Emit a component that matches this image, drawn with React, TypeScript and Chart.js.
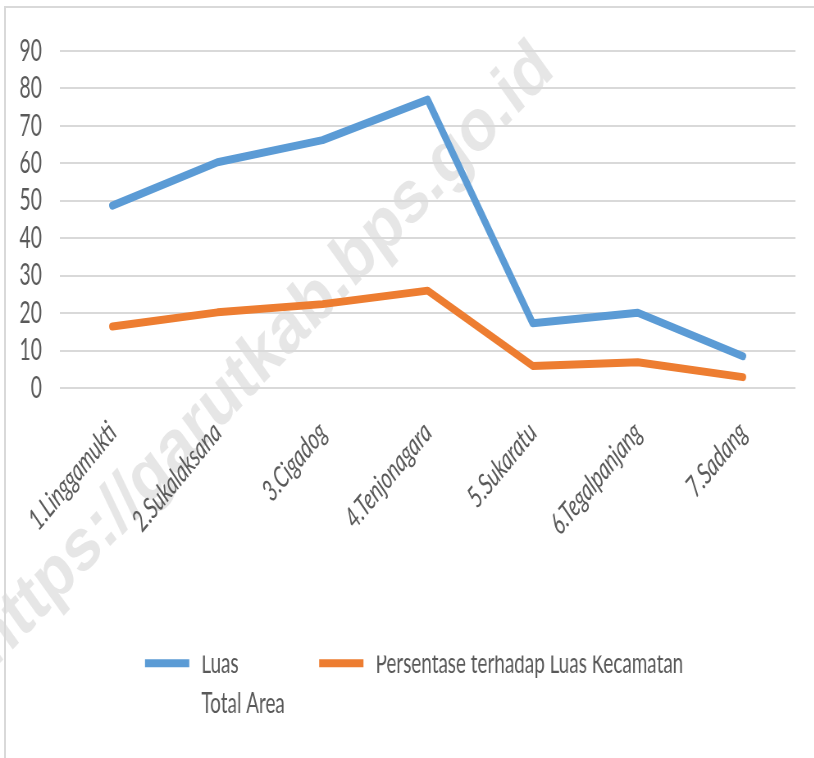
import React, { useEffect, useRef } from "react";
import { Chart, registerables } from "chart.js";

Chart.register(...registerables);

const categories = [
  "1.Linggamukti",
  "2.Sukalaksana",
  "3.Cigadog",
  "4.Tenjonagara",
  "5.Sukaratu",
  "6.Tegalpanjang",
  "7.Sadang",
];
const luas = [48.7, 60.3, 66.2, 77.0, 17.3, 20.1, 8.5];
const persentase = [16.4, 20.2, 22.4, 26.0, 5.9, 6.9, 2.9];
const luasLegend = ["Luas", "Total Area"];
const persentaseLegend = ["Persentase terhadap Luas Kecamatan"];
const yTicks = [0, 10, 20, 30, 40, 50, 60, 70, 80, 90];
const watermarkText = "https://garutkab.bps.go.id";

const BLUE = "#5B9BD5";
const ORANGE = "#ED7D31";
const TEXT = "#595959";
const GRID = "#D9D9D9";
const FONT = "Lato, 'Open Sans', sans-serif";
const SQUEEZE = 0.82; // whole picture is horizontally compressed
const NARROW = 0.78; // extra condensing of text glyphs (Calibri-like narrow face)
const W = Math.round(814 / SQUEEZE);
const H = 758;
const LEGEND_SIZE = 29.5;
const LEGEND_BOX = 54;
const LEGEND_PAD = -7;
const LEGEND_LINE_GAP = 40;

// emulate a condensed font face by compressing text horizontally around its anchor
function condenseText(ctx: any) {
  const proto = Object.getPrototypeOf(ctx);
  const rawFill = proto.fillText;
  const rawMeasure = proto.measureText;
  ctx.fillText = function (text: string, x: number, y: number, maxWidth?: number) {
    if (ctx.__plain) return rawFill.call(ctx, text, x, y);
    ctx.save();
    ctx.translate(x, y);
    ctx.scale(NARROW, 1);
    if (maxWidth !== undefined && maxWidth !== null) rawFill.call(ctx, text, 0, 0, maxWidth / NARROW);
    else rawFill.call(ctx, text, 0, 0);
    ctx.restore();
  };
  ctx.measureText = function (text: string) {
    const m = rawMeasure.call(ctx, text);
    if (ctx.__plain) return m;
    return {
      width: m.width * NARROW,
      actualBoundingBoxAscent: m.actualBoundingBoxAscent,
      actualBoundingBoxDescent: m.actualBoundingBoxDescent,
      actualBoundingBoxLeft: m.actualBoundingBoxLeft * NARROW,
      actualBoundingBoxRight: m.actualBoundingBoxRight * NARROW,
      fontBoundingBoxAscent: m.fontBoundingBoxAscent,
      fontBoundingBoxDescent: m.fontBoundingBoxDescent,
    };
  };
}

const watermarkPlugin = {
  id: "watermark",
  beforeDraw(chart: any) {
    const ctx = chart.ctx;
    ctx.save();
    ctx.__plain = true;
    ctx.translate(322, 356);
    ctx.rotate((-41 * Math.PI) / 180);
    ctx.font = "bold 74px 'Liberation Sans', Arial, sans-serif";
    ctx.fillStyle = "rgba(210,210,210,0.55)";
    ctx.textAlign = "center";
    ctx.textBaseline = "middle";
    ctx.fillText(watermarkText, 0, 0);
    ctx.__plain = false;
    ctx.restore();
  },
};

// second line of the first legend entry (the legend box clips extra lines)
const legendSecondLinePlugin = {
  id: "legendSecondLine",
  afterDraw(chart: any) {
    const lg = chart.legend;
    if (!lg || !lg.legendHitBoxes || !lg.legendHitBoxes[0]) return;
    const hb = lg.legendHitBoxes[0];
    const ctx = chart.ctx;
    ctx.save();
    ctx.font = `normal ${LEGEND_SIZE}px ${FONT}`;
    ctx.fillStyle = TEXT;
    ctx.textAlign = "left";
    ctx.textBaseline = "middle";
    ctx.fillText(luasLegend[1], hb.left + LEGEND_BOX + LEGEND_SIZE / 2, hb.top + LEGEND_SIZE / 2 + LEGEND_LINE_GAP);
    ctx.restore();
  },
};

export default function App() {
  const ref = useRef<HTMLCanvasElement>(null);
  useEffect(() => {
    const canvas = ref.current;
    if (!canvas) return;
    condenseText(canvas.getContext("2d"));
    const chart = new Chart(canvas, {
      type: "line",
      data: {
        labels: categories,
        datasets: [
          {
            label: luasLegend[0],
            data: luas,
            borderColor: BLUE,
            backgroundColor: BLUE,
            borderWidth: 8,
            pointRadius: 0,
            borderCapStyle: "round",
            borderJoinStyle: "round",
            tension: 0,
          },
          {
            label: persentaseLegend[0],
            data: persentase,
            borderColor: ORANGE,
            backgroundColor: ORANGE,
            borderWidth: 8,
            pointRadius: 0,
            borderCapStyle: "round",
            borderJoinStyle: "round",
            tension: 0,
          },
        ],
      },
      options: {
        responsive: false,
        animation: false,
        events: [],
        layout: { padding: { top: 51, right: -17, left: 0, bottom: 70 } },
        plugins: {
          tooltip: { enabled: false },
          legend: {
            position: "bottom",
            labels: {
              boxWidth: LEGEND_BOX,
              boxHeight: 8,
              padding: LEGEND_PAD,
              color: TEXT,
              useBorderRadius: true,
              borderRadius: 4,
              font: { family: FONT, size: LEGEND_SIZE, lineHeight: 2.6 },
              generateLabels: () => [
                {
                  text: luasLegend as any,
                  fillStyle: BLUE,
                  strokeStyle: BLUE,
                  lineWidth: 0,
                  hidden: false,
                  datasetIndex: 0,
                  fontColor: TEXT,
                },
                {
                  text: persentaseLegend[0],
                  fillStyle: ORANGE,
                  strokeStyle: ORANGE,
                  lineWidth: 0,
                  hidden: false,
                  datasetIndex: 1,
                  fontColor: TEXT,
                },
              ],
            },
          },
        },
        scales: {
          x: {
            offset: true,
            grid: { display: false, drawTicks: false },
            border: { display: false },
            ticks: {
              color: TEXT,
              font: { family: FONT, size: 30, style: "italic" },
              minRotation: 45,
              maxRotation: 45,
              padding: 27,
              autoSkip: false,
            },
            afterFit: (scale: any) => {
              scale.height = 260.5 - LEGEND_PAD;
              scale.paddingLeft = 0;
              scale.paddingRight = 0;
            },
          },
          y: {
            min: 0,
            max: 90,
            afterBuildTicks: (scale: any) => {
              scale.ticks = yTicks.map((v) => ({ value: v }));
            },
            grid: { color: GRID, lineWidth: 2, drawTicks: false },
            border: { display: false },
            ticks: {
              color: TEXT,
              font: { family: FONT, size: 30 },
              padding: 22,
              autoSkip: false,
            },
            afterFit: (scale: any) => {
              scale.width = 73;
            },
          },
          // blank right-hand spacer axis (keeps the plot's right margin)
          yRight: {
            position: "right",
            min: 0,
            max: 90,
            grid: { display: false, drawTicks: false },
            border: { display: false },
            ticks: { display: false },
            afterFit: (scale: any) => {
              scale.width = 40;
              scale.paddingTop = 0;
              scale.paddingBottom = 0;
            },
          },
        },
      },
      plugins: [watermarkPlugin, legendSecondLinePlugin],
    } as any);
    return () => chart.destroy();
  }, []);

  return (
    <div style={{ position: "absolute", left: 0, top: 0, width: 814, height: 758, background: "#fff", overflow: "hidden" }}>
      <canvas
        ref={ref}
        width={W}
        height={H}
        style={{ position: "absolute", left: 0, top: 0, display: "block", transform: `scaleX(${SQUEEZE})`, transformOrigin: "0 0" }}
      />
      <div
        style={{
          position: "absolute",
          left: 4,
          top: 6,
          width: 820,
          height: 800,
          borderLeft: "2px solid #D9D9D9",
          borderTop: "2px solid #D9D9D9",
          pointerEvents: "none",
        }}
      />
    </div>
  );
}
